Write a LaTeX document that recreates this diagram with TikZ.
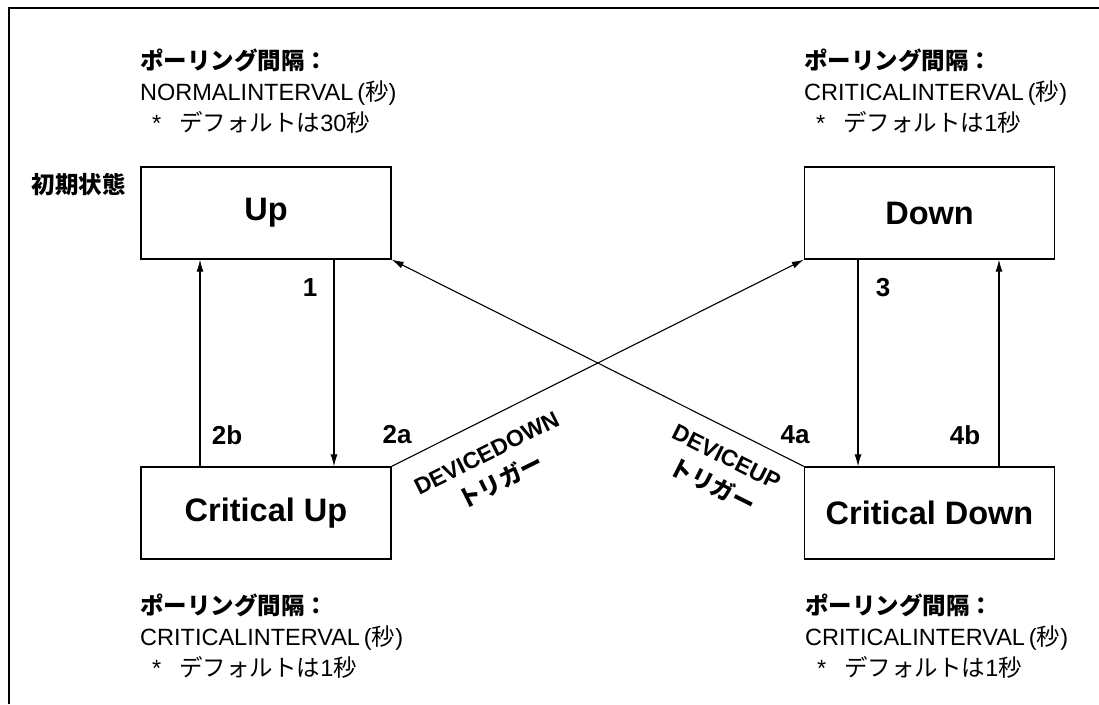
\documentclass[tikz,border=0pt]{standalone}
\usepackage{fontspec}
\setmainfont{Liberation Sans}
\newfontfamily\jp{Noto Sans CJK JP}
\usetikzlibrary{arrows.meta,positioning}

\begin{document}
\begin{tikzpicture}[x=1pt,y=-1pt,
  state/.style={draw,line width=1.3pt,minimum width=250pt,minimum height=92pt,font=\fontsize{32.5}{38}\selectfont\bfseries},
  num/.style={inner sep=0pt,font=\fontsize{26}{30}\selectfont\bfseries},
  info/.style={anchor=north west,align=left,inner sep=0pt,font=\fontsize{23.5}{31}\selectfont},
  trig/.style={align=center,inner sep=0pt,font=\fontsize{23}{32}\selectfont\bfseries},
  tr/.style={line width=1.1pt,-{Latex[length=12pt,width=7pt]}}]
\useasboundingbox (0,0) rectangle (1099,704);
\draw[line width=1.8pt] (9,704) -- (9,8) -- (1099,8);

\node[state] (up) at (266,213) {Up};
\node[state] (down) at (929.5,213) {Down};
\node[state] (crup) at (266,513) {Critical Up};
\node[state] (crdown) at (929.5,513) {Critical Down};

\node[inner sep=0pt,font=\fontsize{23.5}{26}\selectfont\jp\bfseries,anchor=east] (init) at (126,185) {初期状態};

\node[info] (upinfo) at (140,49) {{\jp\bfseries ポーリング間隔：}\\NORMALINTERVAL\,({\jp 秒})\\\hspace{12pt}*\hspace{18pt}{\jp デフォルトは}30{\jp 秒}};
\node[info] (downinfo) at (804,49) {{\jp\bfseries ポーリング間隔：}\\CRITICALINTERVAL\,({\jp 秒})\\\hspace{12pt}*\hspace{18pt}{\jp デフォルトは}1{\jp 秒}};
\node[info] (crupinfo) at (140,594) {{\jp\bfseries ポーリング間隔：}\\CRITICALINTERVAL\,({\jp 秒})\\\hspace{12pt}*\hspace{18pt}{\jp デフォルトは}1{\jp 秒}};
\node[info] (crdowninfo) at (805,594) {{\jp\bfseries ポーリング間隔：}\\CRITICALINTERVAL\,({\jp 秒})\\\hspace{12pt}*\hspace{18pt}{\jp デフォルトは}1{\jp 秒}};

\draw[tr] ([xshift=68pt]up.south) -- ([xshift=68pt]crup.north);
\draw[tr] ([xshift=-66pt]crup.north) -- ([xshift=-66pt]up.south);
\draw[tr] ([xshift=-71.5pt]down.south) -- ([xshift=-71.5pt]crdown.north);
\draw[tr] ([xshift=69.5pt]crdown.north) -- ([xshift=69.5pt]down.south);
\draw[tr] (crup.north east) -- (down.south west);
\draw[tr] (crdown.north west) -- (up.south east);

\node[num] (n1) at (310,288) {1};
\node[num] (n2b) at (227,435) {2b};
\node[num] (n2a) at (397,435) {2a};
\node[num] (n3) at (883,288) {3};
\node[num] (n4a) at (795,435) {4a};
\node[num] (n4b) at (965,435) {4b};

\node[trig,rotate=26.6] (ddown) at (494,468) {DEVICEDOWN\\{\jp トリガー}};
\node[trig,rotate=-26.6] (dup) at (719,472) {DEVICEUP\\{\jp トリガー}};
\end{tikzpicture}
\end{document}
